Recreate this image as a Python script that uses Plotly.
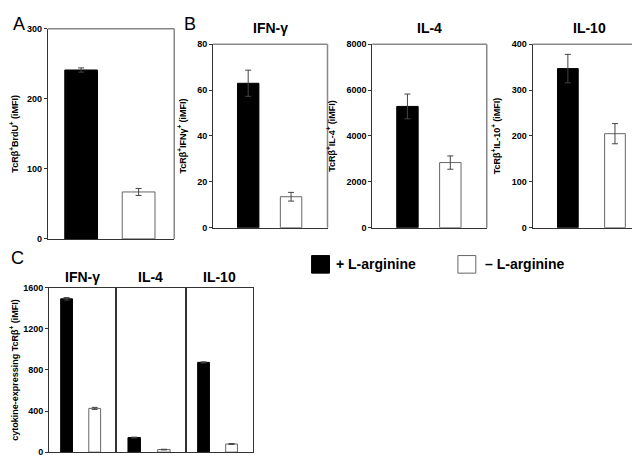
import plotly.graph_objects as go

# ---------------- data ----------------
groups = ["+ L-arginine", "\u2013 L-arginine"]
bar_colors = ["black", "white"]
bar_lines = ["black", "#666666"]

a_values = [241, 67]
a_errors = [3, 5]

b_titles = ["IFN-\u03b3", "IL-4", "IL-10"]
b_ytitles = ["TcR\u03b2<sup>+</sup>IFN\u03b3<sup>+</sup> (iMFI)",
             "TcR\u03b2<sup>+</sup>IL-4<sup>+</sup> (iMFI)",
             "TcR\u03b2<sup>+</sup>IL-10<sup>+</sup> (iMFI)"]
b_values = [[63, 13.5], [5290, 2840], [347, 205]]
b_errors = [[5.7, 1.9], [540, 290], [31, 22]]
b_ymax = [80, 8000, 400]
b_dtick = [20, 2000, 100]

c_titles = ["IFN-\u03b3", "IL-4", "IL-10"]
c_values = [[1493, 426], [142, 25], [874, 79]]
c_errors = [[12, 10], [4, 3], [5, 4]]

# ---------------- layout helpers ----------------
W, H = 640, 455
def xd(a, b):
    return [a / W, b / W]
def yd(top, bottom):
    return [1 - bottom / H, 1 - top / H]

FAM = "Liberation Sans, Arial"
fig = go.Figure()
tickfont = dict(family=FAM, size=9, color="black", weight="bold")
titlefont = dict(family=FAM, size=9, color="black", weight="bold")

def add_bars(values, errors, xaxis, yaxis, width):
    for i in range(2):
        fig.add_trace(go.Bar(
            x=[i], y=[values[i]], width=width,
            marker=dict(color=bar_colors[i], line=dict(color=bar_lines[i], width=1)),
            error_y=dict(type="data", array=[errors[i]], visible=True,
                         color="#444444", thickness=1, width=3),
            xaxis=xaxis, yaxis=yaxis, showlegend=False, hoverinfo="skip"))

def axis_x(domain, rng, anchor, color="#333333", mirror=False):
    return dict(domain=domain, range=rng, showticklabels=False, ticks="",
                showgrid=False, zeroline=False, showline=True, linecolor=color,
                linewidth=1, mirror=mirror, anchor=anchor, fixedrange=True)

def axis_y(domain, ymax, dtick, anchor, title, standoff=9, color="#333333", mirror=False, show=True):
    d = dict(domain=domain, range=[0, ymax], dtick=dtick, showgrid=False,
             zeroline=False, showline=True, linecolor=color, linewidth=1,
             mirror=mirror, anchor=anchor, ticks="outside" if show else "",
             ticklen=3, tickcolor="#333333", tickfont=tickfont,
             showticklabels=show, fixedrange=True)
    if title:
        d["title"] = dict(text=title, font=titlefont, standoff=standoff)
    return d

layout = {}
frames = []  # (xref, yref) needing grey top/right border

# Panel A
add_bars(a_values, a_errors, "x", "y", 0.57)
layout["xaxis"] = axis_x(xd(37, 164), [-0.58, 1.62], "y")
layout["yaxis"] = axis_y(yd(16, 231), 300, 100, "x",
                         "TcR\u03b2<sup>+</sup>BrdU<sup>+</sup> (iMFI)", standoff=13)
frames.append(("x", "y"))

# Panel B
b_x = [(203, 318), (363, 478), (524, 639)]
b_rng = [[-0.82, 1.85], [-0.82, 1.85], [-0.75, 1.68]]
b_w = [0.5, 0.5, 0.44]
for k in range(3):
    n = k + 2
    xa, ya = f"x{n}", f"y{n}"
    add_bars(b_values[k], b_errors[k], xa, ya, b_w[k])
    layout[f"xaxis{n}"] = axis_x(xd(*b_x[k]), b_rng[k], ya)
    layout[f"yaxis{n}"] = axis_y(yd(32, 219.5), b_ymax[k], b_dtick[k], xa, b_ytitles[k])
    frames.append((xa, ya))
    fig.add_annotation(text="<b>" + b_titles[k] + "</b>", x=(b_x[k][0] + b_x[k][1]) / 2 / W,
                       y=1 - 15 / H, xref="paper", yref="paper", showarrow=False,
                       xanchor="center", yanchor="middle",
                       font=dict(family=FAM, size=14, color="black"))

# Panel C
c_x = [(38.3, 105.3), (105.3, 176), (176, 242.7)]
for k in range(3):
    n = k + 5
    xa, ya = f"x{n}", f"y{n}"
    add_bars(c_values[k], c_errors[k], xa, ya, 0.42)
    layout[f"xaxis{n}"] = axis_x(xd(*c_x[k]), [-0.62, 1.75], ya, mirror=True)
    layout[f"yaxis{n}"] = axis_y(yd(281, 449), 1600, 400, xa,
                                 "cytokine-expressing TcR\u03b2<sup>+</sup> (iMFI)" if k == 0 else None,
                                 mirror=True, show=(k == 0), standoff=8)
    fig.add_annotation(text="<b>" + c_titles[k] + "</b>", x=(c_x[k][0] + c_x[k][1]) / 2 / W,
                       y=1 - 270 / H, xref="paper", yref="paper", showarrow=False,
                       xanchor="center", yanchor="middle",
                       font=dict(family=FAM, size=14, color="black"))

# grey top/right borders for A and B
for xa, ya in frames:
    fig.add_shape(type="line", xref=f"{xa} domain", yref=f"{ya} domain",
                  x0=0, x1=1, y0=1, y1=1, line=dict(color="#888888", width=1.5))
    fig.add_shape(type="line", xref=f"{xa} domain", yref=f"{ya} domain",
                  x0=1, x1=1, y0=0, y1=1, line=dict(color="#888888", width=1.5))

# panel letters
for letter, px, py in [("A", 8, 11), ("B", 180, 11), ("C", 7, 251)]:
    fig.add_annotation(text=letter, x=px / W, y=1 - py / H, xref="paper", yref="paper",
                       showarrow=False, xanchor="center", yanchor="middle",
                       font=dict(family=FAM, size=18, color="black"))

# legend
leg_boxes = [(302, 320), (449, 467)]
leg_text_x = [325, 474]
for i in range(2):
    x0, x1 = leg_boxes[i]
    fig.add_shape(type="rect", xref="paper", yref="paper",
                  x0=x0 / W, x1=x1 / W, y0=1 - 266 / H, y1=1 - 248 / H,
                  fillcolor=bar_colors[i], line=dict(color=bar_lines[i], width=1))
    fig.add_annotation(text="<b>" + groups[i] + "</b>", x=leg_text_x[i] / W, y=1 - 257 / H,
                       xref="paper", yref="paper", showarrow=False, xanchor="left",
                       yanchor="middle",
                       font=dict(family=FAM, size=14, color="black"))

fig.update_layout(**layout)
fig.update_layout(width=W, height=H, margin=dict(l=0, r=0, t=0, b=0),
                  paper_bgcolor="white", plot_bgcolor="white", barmode="overlay",
                  showlegend=False)
fig.write_html("out.html")
